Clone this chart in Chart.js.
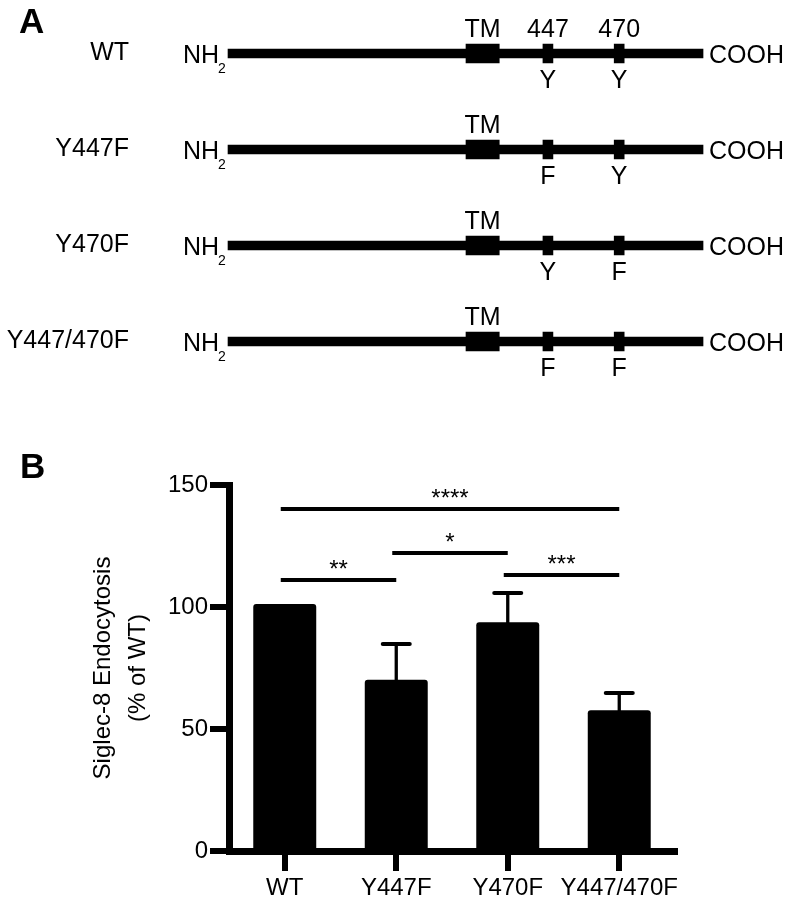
<!DOCTYPE html>
<html><head><meta charset="utf-8">
<script src="https://cdn.jsdelivr.net/npm/chart.js@4"></script>
<style>
html,body{margin:0;padding:0;background:#fff;}
#wrap{position:relative;width:789px;height:900px;overflow:hidden;background:#fff;}
.panel{position:absolute;font-family:"Liberation Sans",Arial,Helvetica,sans-serif;font-weight:bold;font-size:35px;color:#000;line-height:1;}
#ca{position:absolute;left:0;top:0;}
#cb{position:absolute;left:0;top:400px;}
</style></head><body>
<div id="wrap">
<canvas id="ca" width="789" height="400"></canvas>
<canvas id="cb" width="789" height="500"></canvas>
<div class="panel" style="left:19px;top:3px">A</div>
<div class="panel" style="left:20px;top:448px">B</div>
</div>
<script>
// ---------- Panel A: construct schematics ----------
const constructs = ['WT', 'Y447F', 'Y470F', 'Y447/470F'];
const residue447 = ['Y', 'F', 'Y', 'F'];
const residue470 = ['Y', 'Y', 'F', 'F'];
const siteNumbers = ['447', '470'];
// schematic positions along the molecule (arbitrary units, not to scale)
const backboneSpan = [0, 100];
const tmSpan = [50.1, 57.1];
const site447Span = [66.3, 68.4];
const site470Span = [81.3, 83.4];

// ---------- Panel B: endocytosis bar chart ----------
const categories = ['WT', 'Y447F', 'Y470F', 'Y447/470F'];
const endocytosisMean = [100, 69, 92.5, 56.5];
const endocytosisSEM = [0, 15.8, 13.2, 8.3];
const yTicks = [0, 50, 100, 150];
const sigFrom = [0, 0, 1, 2];
const sigTo = [3, 1, 2, 3];
const sigLevel = [140.2, 111.1, 122.1, 113.1];
const sigLabel = ['****', '**', '*', '***'];

const FONT = '"Liberation Sans", Arial, Helvetica, sans-serif';
const mid = s => (s[0] + s[1]) / 2;

const schematicLabels = {
  id: 'schematicLabels',
  afterDatasetsDraw(chart) {
    const {ctx, scales: {x, y}} = chart;
    ctx.save();
    ctx.fillStyle = '#000';
    ctx.textBaseline = 'alphabetic';
    constructs.forEach((c, i) => {
      const yc = y.getPixelForValue(i);
      const x0 = x.getPixelForValue(backboneSpan[0]);
      const x1 = x.getPixelForValue(backboneSpan[1]);
      ctx.font = '25px ' + FONT;
      ctx.textAlign = 'right';
      ctx.fillText('NH', x0 - 9, yc + 9.5);
      ctx.font = '14px ' + FONT;
      ctx.textAlign = 'left';
      ctx.fillText('2', x0 - 10, yc + 19.5);
      ctx.font = '25px ' + FONT;
      ctx.fillText('COOH', x1 + 6, yc + 9.5);
      ctx.textAlign = 'center';
      ctx.fillText('TM', x.getPixelForValue(mid(tmSpan)), yc - 16.5);
      const s1 = x.getPixelForValue(mid(site447Span));
      const s2 = x.getPixelForValue(mid(site470Span));
      if (i === 0) {
        ctx.fillText(siteNumbers[0], s1, yc - 16.5);
        ctx.fillText(siteNumbers[1], s2, yc - 16.5);
      }
      ctx.fillText(residue447[i], s1, yc + 34.5);
      ctx.fillText(residue470[i], s2, yc + 34.5);
    });
    ctx.restore();
  }
};

new Chart(document.getElementById('ca'), {
  type: 'bar',
  data: {
    labels: constructs,
    datasets: [
      {data: constructs.map(() => backboneSpan), barThickness: 9, backgroundColor: '#000', grouped: false},
      {data: constructs.map(() => tmSpan), barThickness: 19, backgroundColor: '#000', grouped: false},
      {data: constructs.map(() => site447Span), barThickness: 19, backgroundColor: '#000', grouped: false},
      {data: constructs.map(() => site470Span), barThickness: 19, backgroundColor: '#000', grouped: false}
    ]
  },
  options: {
    indexAxis: 'y',
    responsive: false,
    animation: false,
    layout: {padding: {top: 5.5, bottom: 10.5, left: 0, right: 0}},
    plugins: {legend: {display: false}, tooltip: {enabled: false}},
    scales: {
      x: {type: 'linear', min: -18.53, max: 118.1, display: false},
      y: {
        grid: {display: false, drawTicks: false},
        border: {display: false},
        ticks: {color: '#000', font: {family: FONT, size: 25}, padding: 11},
        afterFit(s) { s.width = 140; s.paddingTop = 0; s.paddingBottom = 0; }
      }
    }
  },
  plugins: [schematicLabels]
});

const barAnnotations = {
  id: 'barAnnotations',
  afterDatasetsDraw(chart) {
    const {ctx, scales: {x, y}} = chart;
    ctx.save();
    ctx.strokeStyle = '#000';
    ctx.fillStyle = '#000';
    categories.forEach((c, i) => {
      if (!endocytosisSEM[i]) return;
      const xc = x.getPixelForValue(i);
      const yt = y.getPixelForValue(endocytosisMean[i]);
      const ye = y.getPixelForValue(endocytosisMean[i] + endocytosisSEM[i]);
      ctx.lineWidth = 3.3; ctx.lineCap = 'butt';
      ctx.beginPath(); ctx.moveTo(xc, yt); ctx.lineTo(xc, ye); ctx.stroke();
      ctx.lineWidth = 4; ctx.lineCap = 'round';
      ctx.beginPath(); ctx.moveTo(xc - 13.5, ye); ctx.lineTo(xc + 13.5, ye); ctx.stroke();
    });
    ctx.lineCap = 'butt';
    ctx.lineWidth = 4;
    ctx.font = '24px ' + FONT;
    ctx.textAlign = 'center';
    ctx.textBaseline = 'alphabetic';
    sigLabel.forEach((lab, k) => {
      const xa = x.getPixelForValue(sigFrom[k]);
      const xb = x.getPixelForValue(sigTo[k]);
      const yl = y.getPixelForValue(sigLevel[k]);
      ctx.beginPath(); ctx.moveTo(xa - 4, yl); ctx.lineTo(xb, yl); ctx.stroke();
      ctx.fillText(lab, (xa - 4 + xb) / 2, yl - 3);
    });
    ctx.restore();
  }
};

new Chart(document.getElementById('cb'), {
  type: 'bar',
  data: {
    labels: categories,
    datasets: [{
      data: endocytosisMean,
      backgroundColor: '#000',
      barPercentage: 0.511,
      categoryPercentage: 1,
      inflateAmount: 3,
      borderRadius: 3
    }]
  },
  options: {
    responsive: false,
    animation: false,
    layout: {padding: {top: 85, left: 80, right: 114, bottom: 0}},
    plugins: {legend: {display: false}, tooltip: {enabled: false}},
    scales: {
      x: {
        offset: true,
        grid: {offset: false, drawOnChartArea: false, color: '#000', lineWidth: 6, tickLength: 20},
        border: {color: '#000', width: 7},
        ticks: {color: '#000', font: {family: FONT, size: 24}, padding: 3, maxRotation: 0, autoSkip: false},
        afterFit(s) { s.height = 49; }
      },
      y: {
        min: 0, max: 150,
        afterBuildTicks(s) { s.ticks = yTicks.map(v => ({value: v})); },
        grid: {drawOnChartArea: false, color: '#000', lineWidth: 6, tickLength: 19},
        border: {color: '#000', width: 7},
        ticks: {color: '#000', font: {family: FONT, size: 24}, padding: 2},
        title: {
          display: true,
          text: ['Siglec-8 Endocytosis', '(% of WT)'],
          color: '#000',
          font: {family: FONT, size: 24, lineHeight: '35px'},
          padding: {top: 6, bottom: 0}
        },
        afterFit(s) { s.width = 149; }
      }
    }
  },
  plugins: [barAnnotations]
});
</script>
</body></html>
